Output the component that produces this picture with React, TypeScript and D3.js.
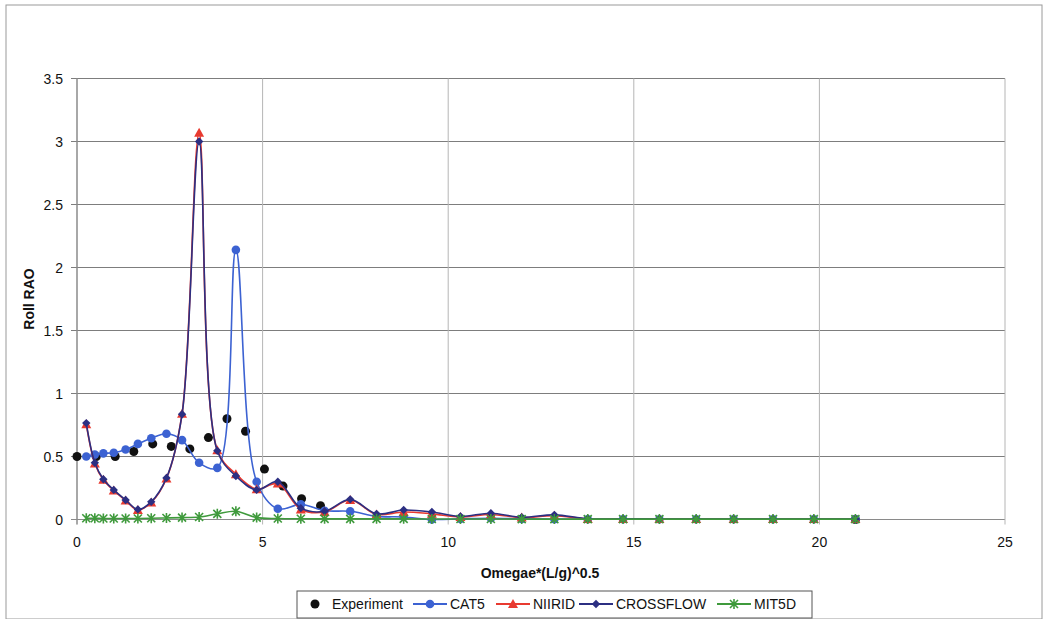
import React from "react";
import * as d3 from "d3";

// Model frequencies (non-dimensional encounter frequency)
const modelOmega = [0.25, 0.48, 0.71, 0.99, 1.31, 1.64, 2.0, 2.41, 2.83, 3.29, 3.78, 4.28, 4.84, 5.41, 6.03, 6.67, 7.36, 8.07, 8.8, 9.56, 10.33, 11.15, 11.98, 12.86, 13.76, 14.71, 15.69, 16.68, 17.69, 18.75, 19.85, 20.97];

const cat5 = [0.5, 0.515, 0.525, 0.53, 0.555, 0.6, 0.645, 0.68, 0.63, 0.45, 0.41, 2.14, 0.3, 0.085, 0.12, 0.07, 0.065, 0.025, 0.02, 0.0, 0.005, 0.01, 0.005, 0.003, 0.002, 0.002, 0.002, 0.002, 0.002, 0.002, 0.002, 0.002];
const niirid = [0.755, 0.445, 0.315, 0.23, 0.15, 0.075, 0.135, 0.325, 0.84, 3.07, 0.55, 0.36, 0.24, 0.285, 0.08, 0.06, 0.155, 0.04, 0.06, 0.045, 0.02, 0.04, 0.015, 0.03, 0.004, 0.004, 0.003, 0.003, 0.003, 0.003, 0.003, 0.003];
const crossflow = [0.765, 0.45, 0.32, 0.235, 0.155, 0.08, 0.14, 0.33, 0.835, 3.0, 0.545, 0.345, 0.235, 0.3, 0.09, 0.065, 0.16, 0.045, 0.075, 0.06, 0.025, 0.05, 0.018, 0.037, 0.006, 0.005, 0.004, 0.004, 0.003, 0.003, 0.003, 0.003];
const mit5d = [0.01, 0.01, 0.008, 0.008, 0.008, 0.008, 0.01, 0.012, 0.015, 0.02, 0.045, 0.065, 0.015, 0.008, 0.006, 0.005, 0.005, 0.005, 0.005, 0.004, 0.004, 0.004, 0.003, 0.003, 0.003, 0.003, 0.003, 0.003, 0.003, 0.003, 0.003, 0.003];

// Measured roll response
const expOmega = [0, 0.52, 1.03, 1.53, 2.04, 2.54, 3.04, 3.54, 4.04, 4.54, 5.05, 5.55, 6.05, 6.56, 20.97];
const expRoll = [0.5, 0.5, 0.5, 0.54, 0.6, 0.58, 0.56, 0.65, 0.8, 0.7, 0.4, 0.265, 0.165, 0.11, 0.0];

const xTicks = [0, 5, 10, 15, 20, 25];
const yTicks = [0, 0.5, 1, 1.5, 2, 2.5, 3, 3.5];

const W = 1046;
const H = 619;
const plot = { left: 77, right: 1005, top: 78.5, bottom: 519.5 };

const COLORS = {
  exp: "#111111",
  cat5: "#3c62d2",
  niirid: "#e83a30",
  crossflow: "#2c2f82",
  mit5d: "#3f9a3c",
};

const FONT = "'Liberation Sans', Arial, sans-serif";

type Pt = [number, number];

function Marker({ kind, x, y, color }: { kind: string; x: number; y: number; color: string }) {
  if (kind === "circle") return <circle cx={x} cy={y} r={4.3} fill={color} />;
  if (kind === "dot") return <circle cx={x} cy={y} r={4.5} fill={color} />;
  if (kind === "triangle") {
    const s = 5;
    return <path d={`M${x},${y - s}L${x + s},${y + s * 0.8}L${x - s},${y + s * 0.8}Z`} fill={color} />;
  }
  if (kind === "diamond") {
    const s = 4.2;
    return <path d={`M${x},${y - s}L${x + s},${y}L${x},${y + s}L${x - s},${y}Z`} fill={color} />;
  }
  // asterisk
  const s = 4;
  return (
    <path
      d={`M${x - s},${y - s}L${x + s},${y + s}M${x - s},${y + s}L${x + s},${y - s}M${x},${y - s - 1}L${x},${y + s + 1}`}
      stroke={color}
      strokeWidth={1.6}
      fill="none"
    />
  );
}

export default function App() {
  const x = d3.scaleLinear().domain([0, 25]).range([plot.left, plot.right]);
  const y = d3.scaleLinear().domain([0, 3.5]).range([plot.bottom, plot.top]);

  const line = d3
    .line<Pt>()
    .x((d) => x(d[0]))
    .y((d) => y(d[1]))
    .curve(d3.curveCatmullRom.alpha(0.5));

  // drawn in legend order, later series on top
  const series = [
    { key: "cat5", vals: cat5, color: COLORS.cat5, marker: "circle" },
    { key: "niirid", vals: niirid, color: COLORS.niirid, marker: "triangle" },
    { key: "crossflow", vals: crossflow, color: COLORS.crossflow, marker: "diamond" },
    { key: "mit5d", vals: mit5d, color: COLORS.mit5d, marker: "star" },
  ];

  const legendItems = [
    { label: "Experiment", color: COLORS.exp, marker: "dot", line: false, x0: 307 },
    { label: "CAT5", color: COLORS.cat5, marker: "circle", line: true, x0: 413 },
    { label: "NIIRID", color: COLORS.niirid, marker: "triangle", line: true, x0: 496 },
    { label: "CROSSFLOW", color: COLORS.crossflow, marker: "diamond", line: true, x0: 579 },
    { label: "MIT5D", color: COLORS.mit5d, marker: "star", line: true, x0: 717 },
  ];

  return (
    <svg width={W} height={H} style={{ position: "absolute", left: 0, top: 0, background: "#fff" }} fontFamily={FONT}>
      {/* outer chart frame */}
      <rect x={6} y={5} width={1036} height={614} fill="#fff" stroke="#9a9a9a" strokeWidth={1} />

      {/* horizontal gridlines */}
      {yTicks.map((t) => (
        <line key={"h" + t} x1={plot.left - 6} x2={plot.right} y1={y(t)} y2={y(t)} stroke={t === 0 ? "#8a8a8a" : "#7d7d7d"} strokeWidth={1} />
      ))}
      {/* vertical gridlines */}
      {xTicks.map((t) => (
        <line key={"v" + t} x1={x(t)} x2={x(t)} y1={plot.top} y2={plot.bottom + 5} stroke="#b5b5b5" strokeWidth={1} />
      ))}
      <line x1={plot.left} x2={plot.left} y1={plot.top} y2={plot.bottom + 5} stroke="#777" />

      {/* tick labels */}
      {yTicks.map((t) => (
        <text key={"yl" + t} x={plot.left - 14} y={y(t) + 5} textAnchor="end" fontSize={14} fill="#111">
          {String(t)}
        </text>
      ))}
      {xTicks.map((t) => (
        <text key={"xl" + t} x={x(t)} y={plot.bottom + 27} textAnchor="middle" fontSize={14} fill="#111">
          {String(t)}
        </text>
      ))}

      {/* axis titles */}
      <text x={540} y={578} textAnchor="middle" fontSize={14} fontWeight="bold" fill="#111">
        Omegae*(L/g)^0.5
      </text>
      <text transform={`translate(34,${(plot.top + plot.bottom) / 2}) rotate(-90)`} textAnchor="middle" fontSize={14} fontWeight="bold" fill="#111">
        Roll RAO
      </text>

      {/* experiment points */}
      {expOmega.map((o, i) => (
        <Marker key={"e" + i} kind="dot" x={x(o)} y={y(expRoll[i])} color={COLORS.exp} />
      ))}

      {/* model curves */}
      {series.map((s) => {
        const pts: Pt[] = modelOmega.map((o, i) => [o, s.vals[i]]);
        return (
          <g key={s.key}>
            <path d={line(pts) || ""} fill="none" stroke={s.color} strokeWidth={1.6} />
            {pts.map((p, i) => (
              <Marker key={i} kind={s.marker} x={x(p[0])} y={y(p[1])} color={s.color} />
            ))}
          </g>
        );
      })}

      {/* legend */}
      <rect x={297} y={591} width={515} height={27} fill="#fff" stroke="#555" strokeWidth={1} />
      {legendItems.map((it) => {
        const cy = 604;
        const mid = it.x0 + 16;
        return (
          <g key={it.label}>
            {it.line && <line x1={it.x0} x2={it.x0 + 34} y1={cy} y2={cy} stroke={it.color} strokeWidth={1.8} />}
            <Marker kind={it.marker} x={it.line ? mid + 1 : it.x0 + 8} y={cy} color={it.color} />
            <text x={it.line ? it.x0 + 37 : it.x0 + 25} y={cy + 5} fontSize={14} fill="#111">
              {it.label}
            </text>
          </g>
        );
      })}
    </svg>
  );
}
